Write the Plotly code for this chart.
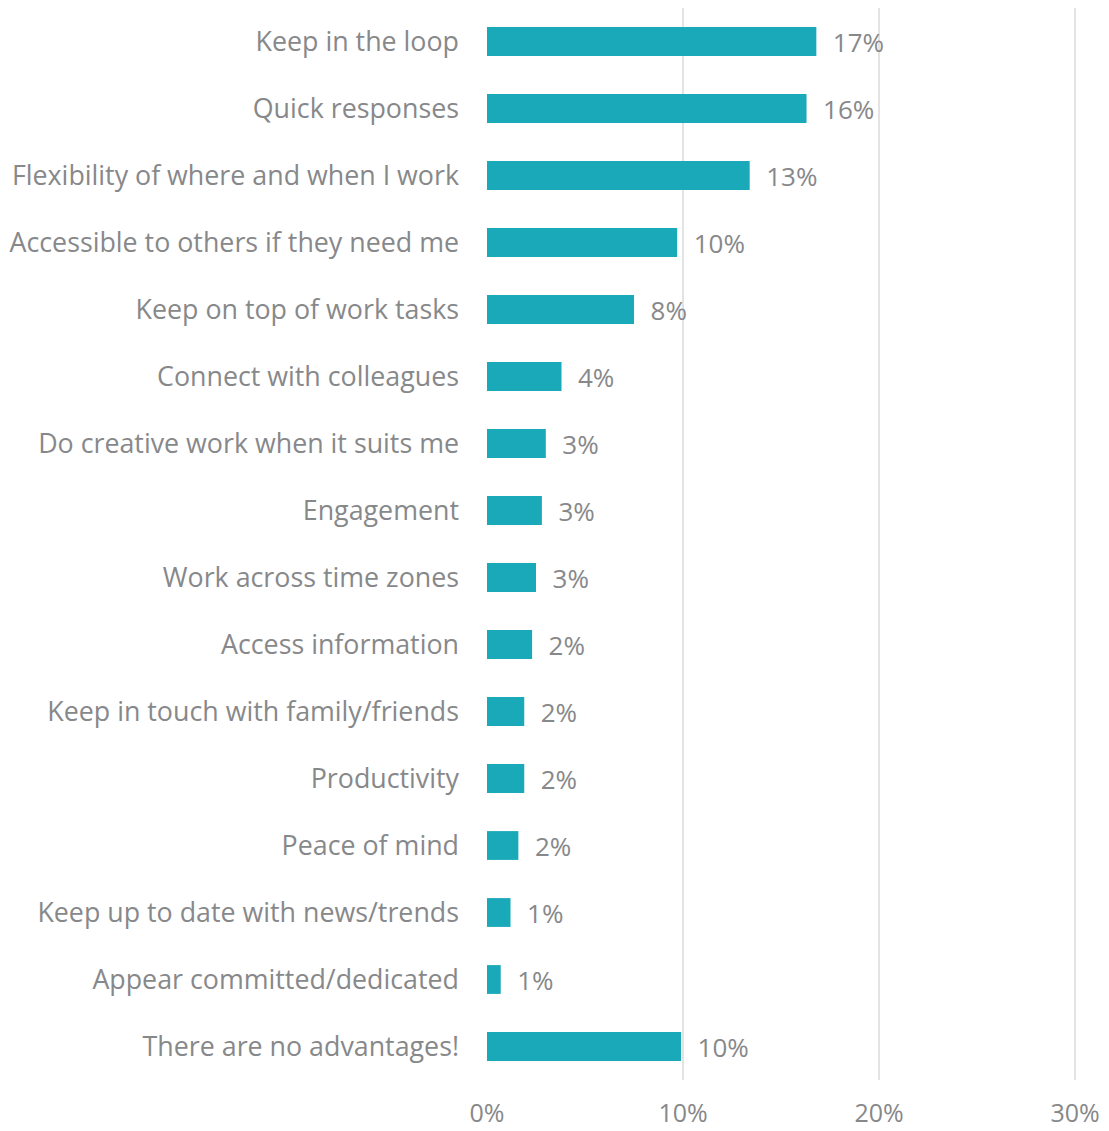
import plotly.graph_objects as go

categories = [
    "Keep in the loop",
    "Quick responses",
    "Flexibility of where and when I work",
    "Accessible to others if they need me",
    "Keep on top of work tasks",
    "Connect with colleagues",
    "Do creative work when it suits me",
    "Engagement",
    "Work across time zones",
    "Access information",
    "Keep in touch with family/friends",
    "Productivity",
    "Peace of mind",
    "Keep up to date with news/trends",
    "Appear committed/dedicated",
    "There are no advantages!",
]
values = [16.8, 16.3, 13.4, 9.7, 7.5, 3.8, 3.0, 2.8, 2.5, 2.3, 1.9, 1.9, 1.6, 1.2, 0.7, 9.9]
value_labels = ["17%", "16%", "13%", "10%", "8%", "4%", "3%", "3%", "3%", "2%", "2%", "2%", "2%", "1%", "1%", "10%"]
x_ticks = [0, 10, 20, 30]
x_tick_labels = ["0%", "10%", "20%", "30%"]

gray = "#87888a"
font = "Open Sans"

fig = go.Figure(go.Bar(
    y=categories,
    x=values,
    orientation="h",
    marker=dict(color="#1aa9b8", line=dict(width=0)),
    width=0.43,
    text=["  " + t for t in value_labels],
    textposition="outside",
    constraintext="none",
    textfont=dict(family=font, size=26, color=gray),
    cliponaxis=False,
))

fig.update_layout(
    width=1101,
    height=1123,
    margin=dict(l=479, r=28, t=0, b=51),
    paper_bgcolor="white",
    plot_bgcolor="white",
    showlegend=False,
    bargap=0.57,
    xaxis=dict(
        range=[0, 30.3],
        tickvals=x_ticks,
        ticktext=x_tick_labels,
        showgrid=True,
        gridcolor="#e3e3e3",
        gridwidth=2,
        zeroline=False,
        showline=False,
        tickfont=dict(family=font, size=25, color=gray),
        ticklabelstandoff=16,
        automargin=False,
        fixedrange=True,
    ),
    yaxis=dict(
        autorange="reversed",
        showgrid=False,
        zeroline=False,
        showline=False,
        tickfont=dict(family=font, size=26.8, color=gray),
        ticklabelstandoff=27,
        automargin=False,
        range=[15.5, -0.5],
    ),
)

fig.write_html("out.html")
